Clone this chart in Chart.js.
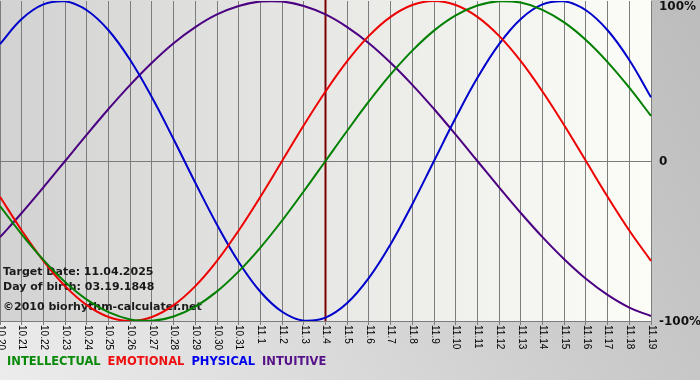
<!DOCTYPE html>
<html>
<head>
<meta charset="utf-8">
<script src="https://cdn.jsdelivr.net/npm/chart.js@4/dist/chart.umd.min.js"></script>
<style>
html,body{margin:0;padding:0;background:#d0d0d0;}
#wrap{width:700px;height:380px;position:relative;}
</style>
</head>
<body>
<div id="wrap"><canvas id="c" width="700" height="380"></canvas></div>
<script>
// ---- data ----
const dates = ['10.20','10.21','10.22','10.23','10.24','10.25','10.26','10.27','10.28','10.29','10.30','10.31',
  '11.1','11.2','11.3','11.4','11.5','11.6','11.7','11.8','11.9','11.10','11.11','11.12','11.13','11.14','11.15',
  '11.16','11.17','11.18','11.19'];

const intellectual = [-0.282,-0.458,-0.618,-0.756,-0.866,-0.945,-0.990,-0.999,-0.972,-0.910,-0.815,-0.690,-0.541,-0.372,-0.189,
  0.000,0.189,0.372,0.541,0.690,0.815,0.910,0.972,0.999,0.990,0.945,0.866,0.756,0.618,0.458,0.282];
const emotional = [-0.223,-0.434,-0.624,-0.782,-0.901,-0.975,-1.000,-0.975,-0.901,-0.782,-0.624,-0.434,-0.223,
  0.000,0.223,0.434,0.624,0.782,0.901,0.975,1.000,0.975,0.901,0.782,0.624,0.434,0.223,0.000,-0.223,-0.434,-0.624];
const physical = [0.731,0.888,0.979,0.998,0.942,0.817,0.631,0.398,0.136,-0.136,-0.398,-0.631,-0.817,-0.942,-0.998,
  -0.979,-0.888,-0.731,-0.520,-0.270,0.000,0.270,0.520,0.731,0.888,0.979,0.998,0.942,0.817,0.631,0.398];
const intuitive = [-0.476,-0.325,-0.165,0.000,0.165,0.325,0.476,0.614,0.736,0.837,0.916,0.969,0.997,0.997,0.969,
  0.916,0.837,0.736,0.614,0.476,0.325,0.165,0.000,-0.165,-0.325,-0.476,-0.614,-0.736,-0.837,-0.916,-0.969];

const seriesNames = ['INTELLECTUAL','EMOTIONAL','PHYSICAL','INTUITIVE'];
const yTickValues = [1, 0, -1];
const yTickLabels = ['100%','0','-100%'];
const targetIndex = 15;
const infoLines = ['Target Date: 11.04.2025','Day of birth: 03.19.1848','\u00A92010 biorhythm-calculater.net'];

// ---- styles ----
const lineColors = ['#008000','#ee0000','#0000cc','#4b0082'];
const legendColors = ['#0a8a0a','#ee1111','#0000ee','#551188'];

const bgPlugin = {
  id: 'bg',
  beforeDraw(chart) {
    const {ctx, chartArea: a} = chart;
    ctx.save();
    const g = ctx.createLinearGradient(0, 380, 700, 0);
    g.addColorStop(0, '#ececec');
    g.addColorStop(1, '#bcbcbc');
    ctx.fillStyle = g;
    ctx.fillRect(0, 0, chart.width, chart.height);
    const g2 = ctx.createLinearGradient(a.left, 0, a.right, 0);
    g2.addColorStop(0, '#d2d2d2');
    g2.addColorStop(1, '#fdfdf8');
    ctx.fillStyle = g2;
    ctx.fillRect(a.left, a.top - 1, a.right - a.left, a.bottom - a.top + 1);
    ctx.restore();
  },
  beforeDatasetsDraw(chart) {
    const {ctx, chartArea: a, scales} = chart;
    ctx.save();
    // target date line
    const x = scales.x.getPixelForValue(targetIndex);
    ctx.strokeStyle = '#7a0000';
    ctx.lineWidth = 2;
    ctx.beginPath();
    ctx.moveTo(x, 0);
    ctx.lineTo(x, a.bottom);
    ctx.stroke();
    // info text
    ctx.fillStyle = '#1a1a1a';
    ctx.font = 'bold 11px "DejaVu Sans", Verdana, sans-serif';
    ctx.textBaseline = 'middle';
    ctx.textAlign = 'left';
    const ys = [272, 287, 307];
    infoLines.forEach((t, i) => ctx.fillText(t, 3, ys[i]));
    ctx.restore();
  },
  afterDraw(chart) {
    const {ctx, chartArea: a, scales} = chart;
    ctx.save();
    // x tick labels, rotated clockwise
    ctx.fillStyle = '#000';
    ctx.font = '10px "Liberation Sans", Arial, sans-serif';
    ctx.textAlign = 'left';
    ctx.textBaseline = 'middle';
    dates.forEach((d, i) => {
      const x = scales.x.getPixelForValue(i);
      ctx.save();
      ctx.translate(x + 0.5, a.bottom + 4);
      ctx.rotate(Math.PI / 2);
      ctx.fillText(d, 0, 0);
      ctx.restore();
    });
    // y labels
    ctx.font = 'bold 12px "DejaVu Sans", Verdana, sans-serif';
    ctx.fillStyle = '#111';
    yTickValues.forEach((v, i) => {
      let y = scales.y.getPixelForValue(v) + 1;
      y = Math.max(7, Math.min(chart.height - 7, y));
      ctx.fillText(yTickLabels[i], a.right + 8, y);
    });
    // legend
    ctx.font = 'bold 11.5px "DejaVu Sans", Verdana, sans-serif';
    let lx = 7;
    seriesNames.forEach((n, i) => {
      ctx.fillStyle = legendColors[i];
      ctx.fillText(n, lx, 362);
      lx += ctx.measureText(n).width + 7;
    });
    ctx.restore();
  }
};

const seriesData = [intellectual, emotional, physical, intuitive];

new Chart(document.getElementById('c'), {
  type: 'line',
  data: {
    labels: dates,
    datasets: seriesNames.map((n, i) => ({
      label: n,
      data: seriesData[i],
      borderColor: lineColors[i],
      backgroundColor: lineColors[i],
      borderWidth: 2,
      pointRadius: 0,
      tension: 0.4,
      fill: false
    }))
  },
  options: {
    responsive: false,
    animation: false,
    layout: {padding: {top: 1, left: 0, right: 0, bottom: 0}},
    plugins: {legend: {display: false}, tooltip: {enabled: false}},
    scales: {
      x: {
        type: 'category',
        offset: false,
        grid: {color: '#7c7c7c', lineWidth: 1, drawTicks: true, tickLength: 4, offset: false},
        border: {display: true, color: '#7c7c7c'},
        ticks: {display: false},
        afterFit(s) { s.height = 59; }
      },
      y: {
        position: 'right',
        min: -1,
        max: 1,
        ticks: {display: false, stepSize: 1},
        grid: {
          drawTicks: false,
          color: (c) => (c.tick && c.tick.value === 0) ? '#7c7c7c' : 'rgba(0,0,0,0)'
        },
        border: {display: false},
        afterFit(s) { s.width = 49; }
      }
    }
  },
  plugins: [bgPlugin]
});
</script>
</body>
</html>
